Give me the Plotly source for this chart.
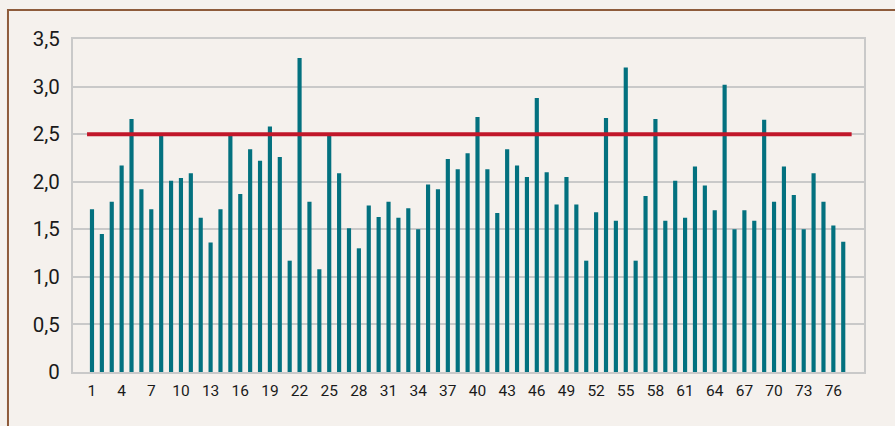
import plotly.graph_objects as go

categories = list(range(1, 78))
values = [
    1.71, 1.45, 1.79, 2.17, 2.66, 1.92, 1.71, 2.48, 2.01, 2.04,
    2.09, 1.62, 1.36, 1.71, 2.48, 1.87, 2.34, 2.22, 2.58, 2.26,
    1.17, 3.30, 1.79, 1.08, 2.48, 2.09, 1.51, 1.30, 1.75, 1.63,
    1.79, 1.62, 1.72, 1.50, 1.97, 1.92, 2.24, 2.13, 2.30, 2.68,
    2.13, 1.67, 2.34, 2.17, 2.05, 2.88, 2.10, 1.76, 2.05, 1.76,
    1.17, 1.68, 2.67, 1.59, 3.20, 1.17, 1.85, 2.66, 1.59, 2.01,
    1.62, 2.16, 1.96, 1.70, 3.02, 1.50, 1.70, 1.59, 2.65, 1.79,
    2.16, 1.86, 1.50, 2.09, 1.79, 1.54, 1.37,
]
threshold = 2.5
x_tickvals = categories[::3]
y_tickvals = [0, 0.5, 1.0, 1.5, 2.0, 2.5, 3.0, 3.5]
y_ticktext = ["0", "0,5", "1,0", "1,5", "2,0", "2,5", "3,0", "3,5"]

BG = "#f5f1ed"
BAR = "#03717f"
RED = "#c1172a"
GRID = "#c9c9c9"

fig = go.Figure()
fig.add_trace(go.Bar(
    x=categories, y=values, width=0.42,
    marker=dict(color=BAR, line=dict(width=0)),
    showlegend=False, hoverinfo="x+y",
))
fig.add_trace(go.Scatter(
    x=[categories[0] - 0.5, categories[-1] + 0.85], y=[threshold, threshold],
    mode="lines", line=dict(color=RED, width=4), showlegend=False,
))

fig.update_layout(
    width=895, height=426,
    margin=dict(l=73, r=31, t=39, b=54),
    paper_bgcolor=BG, plot_bgcolor=BG,
    font=dict(family="Roboto", color="#1a1a1a"),
    bargap=0.5,
    shapes=[dict(
        type="rect", xref="paper", yref="paper",
        x0=-0.0822, x1=1.2, y0=-0.3, y1=1.087,
        line=dict(color="#8e5b3b", width=2), fillcolor="rgba(0,0,0,0)",
        layer="below",
    )],
)
fig.update_xaxes(
    range=[-0.92, 79.1], tickmode="array", tickvals=x_tickvals,
    tickfont=dict(size=15.5, family="Roboto", color="#1a1a1a"),
    showgrid=False, zeroline=False,
    showline=True, linecolor=GRID, linewidth=2, mirror=True,
    ticks="", ticklabelstandoff=3,
)
fig.update_yaxes(
    range=[0, 3.5], tickmode="array", tickvals=y_tickvals, ticktext=y_ticktext,
    tickfont=dict(size=20.5, family="Roboto", color="#1a1a1a"),
    showgrid=True, gridcolor=GRID, gridwidth=2, zeroline=False,
    showline=True, linecolor=GRID, linewidth=2, mirror=True,
    ticks="", ticklabelstandoff=7,
)

fig.write_html(
    "out.html",
    config={"displayModeBar": False},
    post_script="document.body.style.margin='0';document.body.style.background='%s';" % BG,
)
